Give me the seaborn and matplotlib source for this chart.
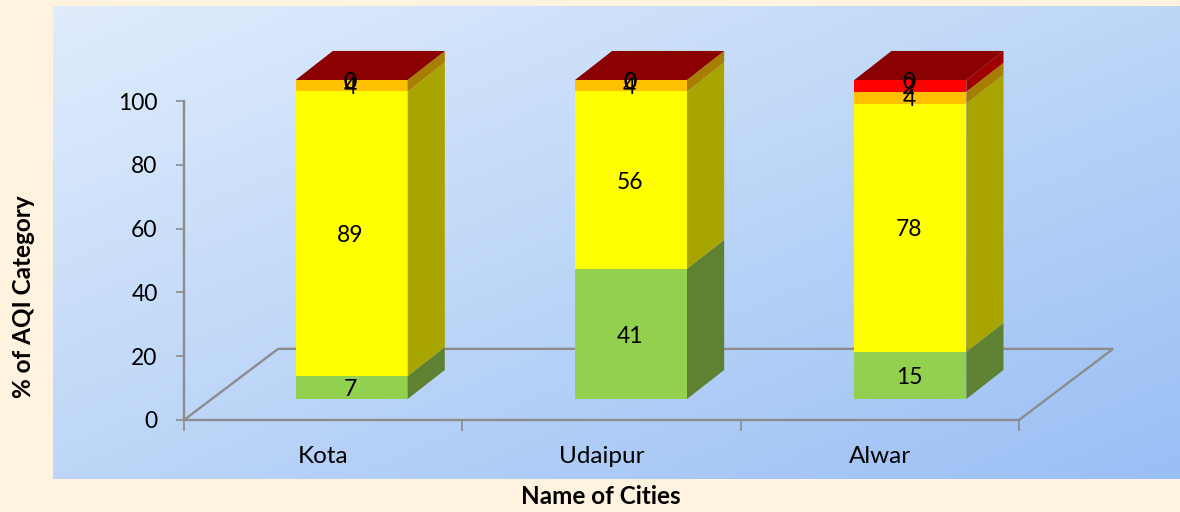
import numpy as np
import seaborn as sns
import matplotlib.pyplot as plt
from matplotlib.colors import LinearSegmentedColormap

# values (heights of the stacked segments, in %)
cities = ["Kota", "Udaipur", "Alwar"]
green = [7.2, 40.8, 14.8]
yellow = [89.2, 55.6, 77.8]
orange = [3.6, 3.6, 3.7]
red = [0, 0, 3.7]
dark_red = [0, 0, 0]

# numbers printed on the segments
green_labels = ["7", "41", "15"]
yellow_labels = ["89", "56", "78"]
orange_labels = ["4", "4", "4"]
red_labels = ["0", "0", "2"]
dark_red_labels = ["0", "0", "0"]

y_ticks = [0, 20, 40, 60, 80, 100]

series = [
    (green, green_labels, "#92D050", "#5E8232"),
    (yellow, yellow_labels, "#FFFF00", "#A8A400"),
    (orange, orange_labels, "#FFC000", "#A87E00"),
    (red, red_labels, "#FF0000", "#A00000"),
    (dark_red, dark_red_labels, "#8B0000", "#700000"),
]

W, H = 1180, 512
GRAY = "#8C8C8C"

sns.set_style("white")
plt.rcParams["font.family"] = ["Lato", "DejaVu Sans"]


def box(left, top, right, bottom):
    return [left / W, (H - bottom) / H, (right - left) / W, (bottom - top) / H]


fig = plt.figure(figsize=(W / 100, H / 100), dpi=100, facecolor="#FEF3DE")

# blue panel behind the chart
bg = fig.add_axes(box(53, 6, 1180, 479), zorder=0)
xx, yy = np.meshgrid(np.linspace(0, 1, 200), np.linspace(0, 1, 100))
panel_cmap = LinearSegmentedColormap.from_list("panel", ["#E0ECFC", "#BDD6F8", "#9ABFF5"])
bg.imshow((xx + yy) / 2, cmap=panel_cmap, aspect="auto", vmin=0, vmax=1)
bg.axis("off")

# axes with the ticks and the floor
ax = fig.add_axes(box(184, 101, 1019, 420), zorder=1)
ax.patch.set_visible(False)
sns.barplot(x=cities, y=[0, 0, 0], ax=ax, width=0.4, saturation=1)
ax.set_xlim(-0.5, 2.5)
ax.set_ylim(0, 100)
ax.set_yticks(y_ticks)
ax.set_xticks([-0.5, 0.5, 1.5, 2.5], minor=True)
ax.tick_params(axis="x", which="major", length=0, pad=18.5, labelsize=17.5, labelcolor="black")
ax.tick_params(axis="x", which="minor", bottom=True, length=8, width=1.2, color=GRAY)
ax.tick_params(axis="y", left=True, length=6, width=1.2, color=GRAY, pad=13, labelsize=16.5, labelcolor="black")
sns.despine(ax=ax, top=True, right=True)
for side in ["left", "bottom"]:
    ax.spines[side].set_color(GRAY)
    ax.spines[side].set_linewidth(1.7)

floor_dx, floor_dy = 0.338, 22.3
floor_x = [-0.5, -0.5 + floor_dx, 2.5 + floor_dx, 2.5]
floor_y = [0, floor_dy, floor_dy, 0]
ax.plot(floor_x, floor_y, color=GRAY, lw=1.7, clip_on=False, solid_joinstyle="miter")

# bars sit on the floor, so they get their own axes shifted back a bit
bars_ax = fig.add_axes(box(212, 101 - 21, 1050, 420 - 21), zorder=2)
bars_ax.patch.set_visible(False)

bar_width = 0.401
depth_x, depth_y = 0.133, 9.1
positions = np.arange(len(cities))
bottom = np.zeros(len(cities))
for values, labels, front, shade in series:
    values = np.array(values, dtype=float)
    sns.barplot(x=cities, y=values, bottom=bottom, color=front, width=bar_width,
                saturation=1, linewidth=0, ax=bars_ax)
    texts = bars_ax.bar_label(bars_ax.containers[-1], labels=labels, label_type="center",
                              fontsize=16.5, color="black", zorder=6)
    for text in texts:
        text.xyann = (-1, -1.5)
    top = bottom + values
    # side faces of the 3d bars
    for pos, b, t in zip(positions, bottom, top):
        right = pos + bar_width / 2
        bars_ax.fill([right, right + depth_x, right + depth_x, right],
                     [b, b + depth_y, t + depth_y, t],
                     color=shade, lw=0, clip_on=False)
    bottom = top

# top faces
for pos, t in zip(positions, bottom):
    left = pos - bar_width / 2
    right = pos + bar_width / 2
    bars_ax.fill([left, left + depth_x, right + depth_x, right],
                 [t, t + depth_y, t + depth_y, t],
                 color=series[-1][2], lw=0, clip_on=False)

bars_ax.set_xlim(-0.5, 2.5)
bars_ax.set_ylim(0, 100)
bars_ax.axis("off")

fig.text(24 / W, 1 - 297 / H, "% of AQI Category", rotation=90, ha="center", va="center",
         fontsize=17.5, fontweight="bold", color="black")
fig.text(601 / W, 1 - 496.5 / H, "Name of Cities", ha="center", va="center",
         fontsize=17.5, fontweight="bold", color="black")

fig.savefig("out.png", dpi=100, facecolor=fig.get_facecolor())
